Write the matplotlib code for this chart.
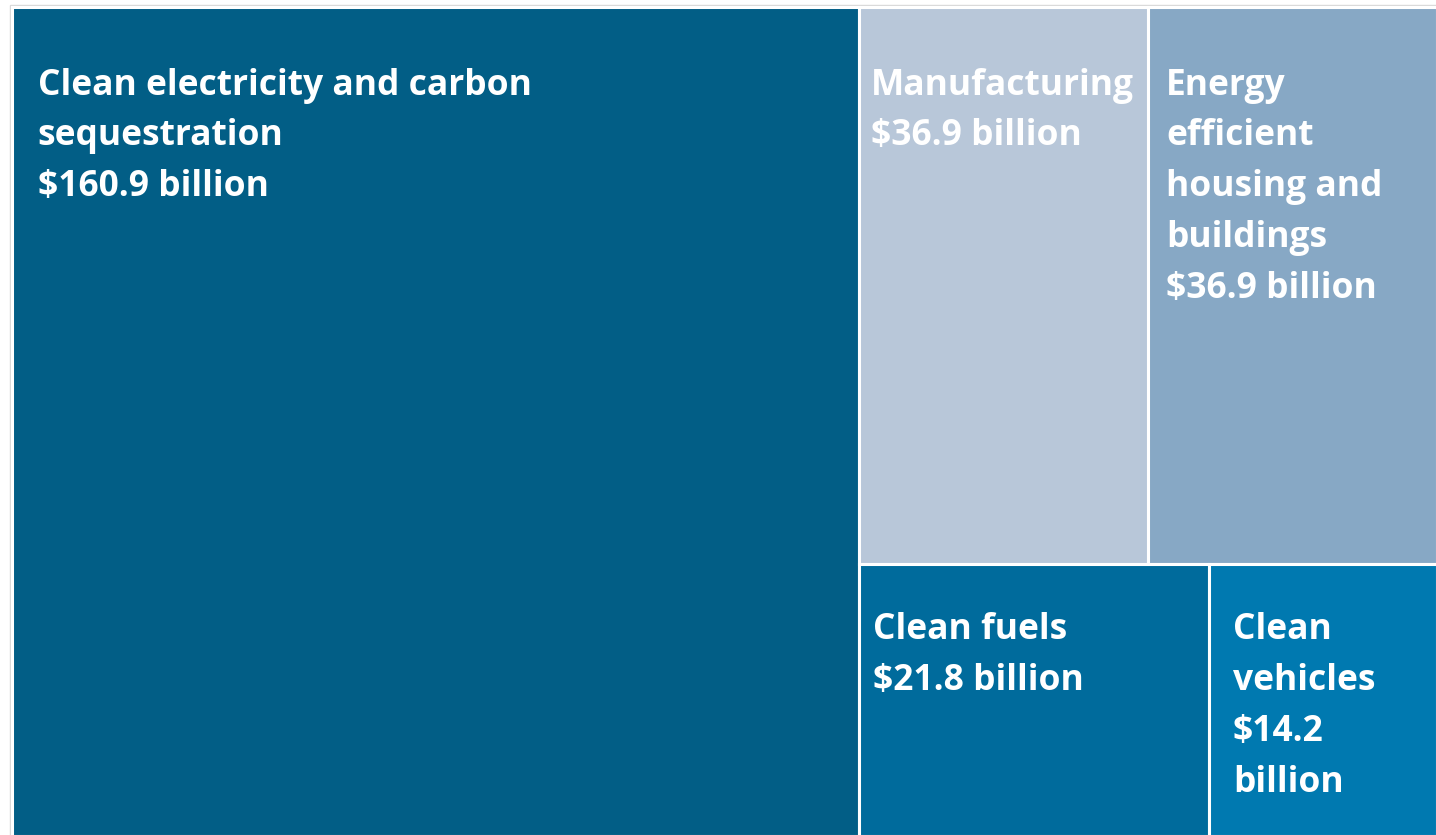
import matplotlib.pyplot as plt
from matplotlib.patches import Rectangle

# Categories and values (billions of dollars)
labels = ["Clean electricity and carbon\nsequestration",
          "Manufacturing",
          "Energy\nefficient\nhousing and\nbuildings",
          "Clean fuels",
          "Clean\nvehicles"]
values = [160.9, 36.9, 36.9, 21.8, 14.2]
value_text = ["$160.9 billion", "$36.9 billion", "$36.9 billion", "$21.8 billion", "$14.2\nbillion"]
colors = ["#025E86", "#B8C7D9", "#87A8C5", "#006B9C", "#0079B0"]
text_pad = [26, 12, 18, 14, 24]    # left padding of each label, px
text_top = [61, 61, 61, 48, 48]    # top padding of each label, px

W, H = 1436, 835
x0, y0, x1, y1 = 11.5, 6.5, 1437, 836

fig = plt.figure(figsize=(14.36, 8.35), dpi=100)
ax = fig.add_axes([0, 0, 1, 1])
ax.set_xlim(0, W)
ax.set_ylim(H, 0)
ax.axis("off")

# simple treemap layout: big block as a column, rest as two rows of two
total = sum(values)
rects = []
bw = (x1 - x0) * values[0] / total
rects.append((x0, y0, bw, y1 - y0))
rx = x0 + bw
rw = x1 - rx
rest = sum(values[1:])
th = (y1 - y0) * (values[1] + values[2]) / rest
w1 = rw * values[1] / (values[1] + values[2])
rects.append((rx, y0, w1, th))
rects.append((rx + w1, y0, rw - w1, th))
w3 = rw * values[3] / (values[3] + values[4])
rects.append((rx, y0 + th, w3, y1 - y0 - th))
rects.append((rx + w3, y0 + th, rw - w3, y1 - y0 - th))

# light outer frame
ax.add_patch(Rectangle((10, 5), W, H, facecolor="none", edgecolor="#D9D9D9", linewidth=1))

for (x, y, w, h), lab, val, c, p, t in zip(rects, labels, value_text, colors, text_pad, text_top):
    ax.add_patch(Rectangle((x, y), w, h, facecolor=c, edgecolor="white", linewidth=2.2))
    ax.text(x + p, y + t, lab + "\n" + val, color="white", fontsize=25.5,
            fontweight="bold", family="Open Sans", va="top", ha="left",
            linespacing=1.55)

plt.savefig("out.png", dpi=100)
